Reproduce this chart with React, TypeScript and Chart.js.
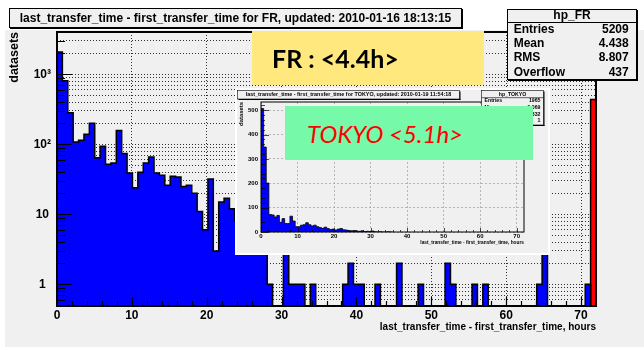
import React, { useEffect, useRef } from 'react';
import { Chart, registerables } from 'chart.js';

Chart.register(...registerables);

const FONT = "'Liberation Sans', Arial, Helvetica, sans-serif";
const PAD_GRAY = '#f0f0f0';

// Both histograms: 100 bins of 0.72 h between 0 and 72 h
const BIN_WIDTH = 0.72;
const X_MAX = 72;
const LOG_FLOOR = 0.01; // empty bins drop below the log axis

// FR: entries per bin (bins 0..98); the last bin carries the overflow
const frCounts = [
  2080, 810, 283, 108, 114, 139, 200, 64, 94, 52,
  54, 157, 74, 39, 24, 40, 54, 66, 39, 36,
  26, 35, 34, 25, 26, 20, 11, 6, 32, 3,
  15, 17, 12, 8, 6, 5, 7, 4, 3, 1,
  0, 0, 3, 1, 1, 1, 0, 1, 0, 0,
  0, 0, 0, 1, 2, 1, 1, 0, 0, 1,
  0, 0, 0, 2, 0, 0, 0, 1, 0, 0,
  0, 0, 2, 1, 0, 0, 0, 1, 0, 1,
  0, 0, 0, 0, 0, 0, 0, 0, 0, 1,
  3, 0, 0, 0, 0, 0, 0, 0, 1,
];
const frOverflow = 437;
const frTitle = 'last_transfer_time - first_transfer_time for FR, updated: 2010-01-16 18:13:15';
const frStatName = 'hp_FR';
const frStatValues = ['5209', '4.438', '8.807', '437'];

// TOKYO: entries per bin
const tokyoCounts = [
  507, 349, 201, 72, 70, 62, 68, 40, 55, 35,
  35, 65, 45, 22, 22, 28, 30, 38, 30, 25,
  28, 22, 18, 15, 20, 14, 10, 12, 8, 12,
  14, 9, 8, 6, 5, 6, 4, 3, 5, 2,
  3, 2, 4, 1, 0, 1, 0, 0, 1, 0,
];
const tokyoTitle = 'last_transfer_time - first_transfer_time for TOKYO, updated: 2010-01-19 11:54:18';
const tokyoStatName = 'hp_TOKYO';
const tokyoStatValues = ['1965', '5.069', '8.332', '1'];

const statLabels = ['Entries', 'Mean', 'RMS', 'Overflow'];
const xAxisTitle = 'last_transfer_time - first_transfer_time, hours';
const yAxisTitle = 'datasets';
const xTickValues = [0, 10, 20, 30, 40, 50, 60, 70];
const yDecades = [1, 10, 100, 1000];
const yDecadeLabels = ['1', '10', '10²', '10³'];
const tokyoYTicks = [0, 100, 200, 300, 400, 500];
const frSummary = 'FR : <4.4h>';
const tokyoSummary = 'TOKYO <5.1h>';

// Outline of a histogram as step points (left edges + closing edge)
function histPoints(counts: number[], firstBin: number, floor: number) {
  const pts: { x: number; y: number }[] = [];
  const val = (c: number) => (c > 0 ? c : floor);
  pts.push({ x: firstBin * BIN_WIDTH, y: floor });
  counts.forEach((c, i) => pts.push({ x: (firstBin + i) * BIN_WIDTH, y: val(c) }));
  const end = (firstBin + counts.length) * BIN_WIDTH;
  pts.push({ x: end, y: val(counts[counts.length - 1]) });
  pts.push({ x: end, y: floor });
  return pts;
}

// Log axis structure: every mantissa 1..9 per decade, from 0.5 to 4000
const logGrid: number[] = [];
for (let e = -1; e <= 3; e++) {
  for (let m = 1; m <= 9; m++) {
    const v = m * Math.pow(10, e);
    if (v >= 0.5 && v <= 4000) logGrid.push(v);
  }
}
const logMinor = logGrid.filter((v) => !yDecades.includes(v));

function minorSteps(from: number, to: number, step: number, skipEvery: number) {
  const out: number[] = [];
  for (let v = from; v <= to + 1e-9; v += step) {
    if (Math.abs(v / skipEvery - Math.round(v / skipEvery)) > 1e-9) out.push(v);
  }
  return out;
}

type Marks = {
  xMajor: number[]; xMinor: number[]; yMajor: number[]; yMinor: number[];
  xLen: [number, number]; yLen: [number, number]; tickWidth: number; frameWidth: number;
};

// Inward tick marks and the frame, drawn over the histogram
function frameAndTicks(m: Marks) {
  return {
    id: 'frameAndTicks',
    afterDatasetsDraw(chart: any) {
      const { ctx, chartArea: a } = chart;
      const xs = chart.scales.x;
      const ys = chart.scales.y;
      ctx.save();
      ctx.strokeStyle = '#000';
      ctx.lineWidth = m.tickWidth;
      ctx.beginPath();
      const vx = (vals: number[], len: number) =>
        vals.forEach((v) => {
          const p = Math.round(xs.getPixelForValue(v)) + 0.5;
          ctx.moveTo(p, a.bottom);
          ctx.lineTo(p, a.bottom - len);
        });
      const hy = (vals: number[], len: number) =>
        vals.forEach((v) => {
          const p = Math.round(ys.getPixelForValue(v)) + 0.5;
          ctx.moveTo(a.left, p);
          ctx.lineTo(a.left + len, p);
        });
      vx(m.xMajor, m.xLen[0]);
      vx(m.xMinor, m.xLen[1]);
      hy(m.yMajor, m.yLen[0]);
      hy(m.yMinor, m.yLen[1]);
      ctx.stroke();
      ctx.lineWidth = m.frameWidth;
      ctx.strokeRect(a.left, a.top, a.right - a.left, a.bottom - a.top);
      ctx.restore();
    },
  };
}

function drawPave(ctx: CanvasRenderingContext2D, x: number, y: number, w: number, h: number) {
  ctx.fillStyle = PAD_GRAY;
  ctx.fillRect(x, y, w, h);
  ctx.strokeStyle = '#000';
  ctx.lineWidth = 0.6;
  ctx.strokeRect(x, y, w, h);
  ctx.fillStyle = '#000';
  ctx.fillRect(x + w, y + 1, 1, h);
  ctx.fillRect(x + 1, y + h, w, 1);
}

// Title and statistics panes of the small TOKYO plot
const tokyoPanes = {
  id: 'tokyoPanes',
  afterDraw(chart: any) {
    const ctx: CanvasRenderingContext2D = chart.ctx;
    ctx.save();
    drawPave(ctx, 0.5, 0.5, 222, 8.5);
    ctx.fillStyle = '#000';
    ctx.font = `bold 5.4px ${FONT}`;
    ctx.textAlign = 'center';
    ctx.textBaseline = 'middle';
    ctx.fillText(tokyoTitle, 111.5, 5);

    const sx = 244.5, sw = 62, sh = 34.5;
    drawPave(ctx, sx, 0.5, sw, sh);
    ctx.fillStyle = '#000';
    ctx.font = `bold 5.2px ${FONT}`;
    ctx.fillText(tokyoStatName, sx + sw / 2, 4.2);
    ctx.fillRect(sx, 7.5, sw, 0.6);
    statLabels.forEach((label, i) => {
      const y = 11 + i * 6.6;
      ctx.textAlign = 'left';
      ctx.fillText(label, sx + 3, y);
      ctx.textAlign = 'right';
      ctx.fillText(tokyoStatValues[i], sx + sw - 3, y);
    });
    ctx.restore();
  },
};

const noInteraction = {
  responsive: false,
  animation: false as const,
  events: [] as string[],
  plugins: { legend: { display: false }, tooltip: { enabled: false } },
};

function mainConfig(): any {
  const boldFont = (size: number) => ({ family: FONT, size, weight: 'bold' as const });
  return {
    type: 'line',
    data: {
      datasets: [
        {
          data: histPoints(frCounts, 0, LOG_FLOOR),
          backgroundColor: '#0000ff', borderColor: '#000', borderWidth: 1.5,
          fill: 'start', stepped: 'before', pointRadius: 0, tension: 0,
        },
        {
          data: histPoints([frOverflow], frCounts.length, LOG_FLOOR),
          backgroundColor: '#ff0000', borderColor: '#000', borderWidth: 1.5,
          fill: 'start', stepped: 'before', pointRadius: 0, tension: 0,
        },
      ],
    },
    options: {
      ...noInteraction,
      layout: { padding: { left: 0, top: 32, right: 48, bottom: 0 } },
      scales: {
        x: {
          type: 'linear', min: 0, max: X_MAX, bounds: 'data',
          afterFit: (s: any) => { s.height = 44; },
          afterBuildTicks: (s: any) => { s.ticks = xTickValues.map((v) => ({ value: v })); },
          ticks: { autoSkip: false, maxRotation: 0, padding: 2, color: '#000', font: boldFont(12) },
          grid: { drawTicks: false, color: 'rgba(0,0,0,0.8)', lineWidth: 1 },
          border: { display: false, dash: [1, 2] },
          title: {
            display: true, text: xAxisTitle, align: 'end', color: '#000',
            font: boldFont(10), padding: { top: 0, bottom: 17 },
          },
        },
        y: {
          type: 'logarithmic', min: 0.49, max: 4020, bounds: 'data',
          afterFit: (s: any) => { s.width = 57; },
          afterBuildTicks: (s: any) => { s.ticks = logGrid.map((v) => ({ value: v })); },
          ticks: {
            autoSkip: false, padding: 6, crossAlign: 'center', color: '#000', font: boldFont(12),
            callback: (v: any) => {
              const i = yDecades.indexOf(Number(v));
              return i >= 0 ? yDecadeLabels[i] : '';
            },
          },
          grid: { drawTicks: false, color: 'rgba(0,0,0,0.8)', lineWidth: 1 },
          border: { display: false, dash: [1, 2] },
          title: {
            display: true, text: yAxisTitle, align: 'end', color: '#000',
            font: boldFont(12.5), padding: { top: 7.5, bottom: 0 },
          },
        },
      },
    },
    plugins: [
      frameAndTicks({
        xMajor: xTickValues, xMinor: minorSteps(2, 70, 2, 10),
        yMajor: yDecades, yMinor: logMinor,
        xLen: [9, 5], yLen: [15, 8], tickWidth: 1.2, frameWidth: 2,
      }),
    ],
  };
}

function insetConfig(): any {
  const boldFont = (size: number) => ({ family: FONT, size, weight: 'bold' as const });
  return {
    type: 'line',
    data: {
      datasets: [
        {
          data: histPoints(tokyoCounts, 0, 0),
          backgroundColor: '#0000ff', borderColor: '#000', borderWidth: 0.8,
          fill: 'start', stepped: 'before', pointRadius: 0, tension: 0,
        },
      ],
    },
    options: {
      ...noInteraction,
      layout: { padding: { left: 0, top: 12, right: 24, bottom: 0 } },
      scales: {
        x: {
          type: 'linear', min: 0, max: X_MAX, bounds: 'data',
          afterFit: (s: any) => { s.height = 21; },
          afterBuildTicks: (s: any) => { s.ticks = xTickValues.map((v) => ({ value: v })); },
          ticks: { autoSkip: false, maxRotation: 0, padding: 1, color: '#000', font: boldFont(6) },
          grid: { drawTicks: false, color: '#a8a8a8', lineWidth: 0.8 },
          border: { display: false, dash: [2, 2] },
          title: {
            display: true, text: xAxisTitle, align: 'end', color: '#000',
            font: boldFont(4.8), padding: { top: 0, bottom: 7.8 },
          },
        },
        y: {
          type: 'linear', min: 0, max: 534, bounds: 'data',
          afterFit: (s: any) => { s.width = 24; },
          afterBuildTicks: (s: any) => { s.ticks = tokyoYTicks.map((v) => ({ value: v })); },
          ticks: { autoSkip: false, padding: 3, color: '#000', font: boldFont(6) },
          grid: { drawTicks: false, color: '#a8a8a8', lineWidth: 0.8 },
          border: { display: false, dash: [2, 2] },
          title: {
            display: true, text: yAxisTitle, align: 'end', color: '#000',
            font: boldFont(5.9), padding: { top: 1.2, bottom: 0 },
          },
        },
      },
    },
    plugins: [
      frameAndTicks({
        xMajor: xTickValues, xMinor: minorSteps(2, 70, 2, 10),
        yMajor: tokyoYTicks, yMinor: minorSteps(20, 520, 20, 100),
        xLen: [4, 2], yLen: [8, 4], tickWidth: 0.7, frameWidth: 1,
      }),
      tokyoPanes,
    ],
  };
}

function StatsBox({ name, values }: { name: string; values: string[] }) {
  return (
    <div
      style={{
        position: 'absolute', left: 507, top: 9, width: 130, height: 71, boxSizing: 'border-box',
        border: '1px solid #000', boxShadow: '1px 1px 0 #000', background: PAD_GRAY,
        font: `bold 12px ${FONT}`, color: '#000',
      }}
    >
      <div style={{ position: 'absolute', left: 0, right: 0, top: 0, height: 10, lineHeight: '10px', textAlign: 'center' }}>
        {name}
      </div>
      <div style={{ position: 'absolute', left: 0, right: 0, top: 11.5, height: 1, background: '#000' }} />
      {statLabels.map((label, i) => (
        <div
          key={label}
          style={{
            position: 'absolute', left: 5.7, right: 7.3, top: 12 + i * 14.2, height: 14, lineHeight: '14px',
            display: 'flex', justifyContent: 'space-between',
          }}
        >
          <span>{label}</span>
          <span>{values[i]}</span>
        </div>
      ))}
    </div>
  );
}

export default function App() {
  const mainRef = useRef<HTMLCanvasElement>(null);
  const insetRef = useRef<HTMLCanvasElement>(null);

  useEffect(() => {
    document.body.style.margin = '0';
    const main = new Chart(mainRef.current as HTMLCanvasElement, mainConfig());
    const inset = new Chart(insetRef.current as HTMLCanvasElement, insetConfig());
    return () => {
      main.destroy();
      inset.destroy();
    };
  }, []);

  return (
    <div style={{ position: 'relative', width: 644, height: 350, background: '#fff', overflow: 'hidden' }}>
      <div style={{ position: 'absolute', left: 5, top: 30, width: 639, height: 317, background: PAD_GRAY }} />
      <canvas ref={mainRef} width={644} height={350} style={{ position: 'absolute', left: 0, top: 0, display: 'block' }} />

      <div
        style={{
          position: 'absolute', left: 9, top: 8, width: 453, height: 20, boxSizing: 'border-box',
          border: '1px solid #000', boxShadow: '1px 1px 0 #000', background: PAD_GRAY,
          font: `bold 12px ${FONT}`, lineHeight: '18px', textAlign: 'center', color: '#000', whiteSpace: 'nowrap',
        }}
      >
        {frTitle}
      </div>

      <StatsBox name={frStatName} values={frStatValues} />

      <div
        style={{
          position: 'absolute', left: 252, top: 31, width: 232, height: 54, background: '#ffe97f',
          display: 'flex', alignItems: 'center', paddingLeft: 20, boxSizing: 'border-box',
          font: `bold 25px Lato, 'Open Sans', sans-serif`, color: '#000', whiteSpace: 'nowrap',
        }}
      >
        {frSummary}
      </div>

      <div
        style={{
          position: 'absolute', left: 235, top: 88, width: 315, height: 167, boxSizing: 'border-box',
          border: '2px solid #fff', background: PAD_GRAY,
        }}
      >
        <canvas ref={insetRef} width={311} height={163} style={{ display: 'block' }} />
      </div>

      <div
        style={{
          position: 'absolute', left: 285, top: 106, width: 248, height: 54, background: '#76f9a9',
          display: 'flex', alignItems: 'center', paddingLeft: 22, boxSizing: 'border-box',
          font: `italic 24px Lato, 'Open Sans', sans-serif`, color: '#ff0000', whiteSpace: 'nowrap',
        }}
      >
        {tokyoSummary}
      </div>
    </div>
  );
}
